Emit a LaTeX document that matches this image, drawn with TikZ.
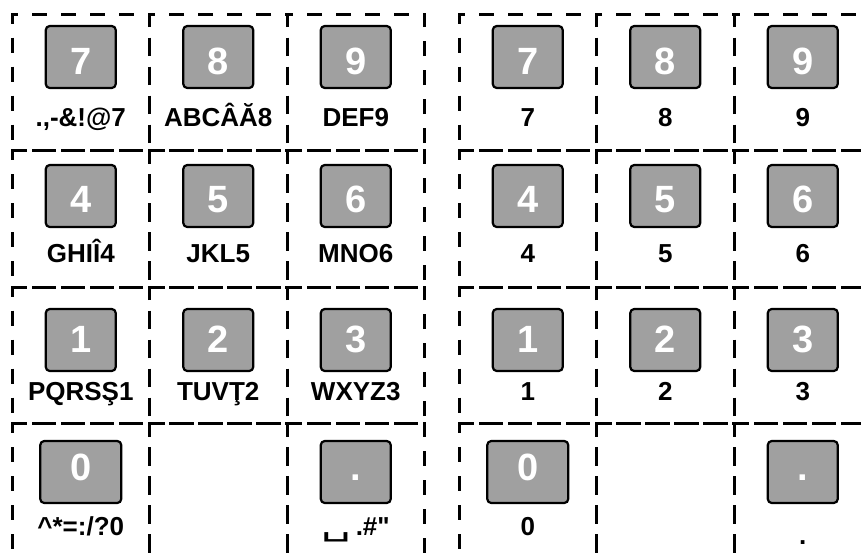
\documentclass[tikz,border=0pt]{standalone}
\usepackage{fontspec}
\setmainfont{Liberation Sans}
\newfontfamily\symfont{DejaVu Sans}
\usepackage{xcolor}
\usetikzlibrary{positioning}
\definecolor{keygray}{HTML}{A0A0A0}

\begin{document}
\begin{tikzpicture}[x=1pt, y=-1pt,
  cellbox/.style={draw, line width=3pt, dash pattern=on 15pt off 14pt,
    minimum width=137.5pt, minimum height=136.5pt, inner sep=0pt, outer sep=0pt},
  keybox/.style={draw, line width=2.2pt, fill=keygray, rounded corners=4pt,
    minimum height=62pt, inner sep=0pt, text depth=0pt, text=white,
    font=\fontsize{38}{38}\selectfont\bfseries},
  keylabel/.style={anchor=base, inner sep=0pt,
    font=\fontsize{26}{26}\selectfont\bfseries}]
\useasboundingbox (0,0) rectangle (861,557);
\clip (0,0) rectangle (861,557);
%
% dashed cells, two pads of 3x4
\foreach \g/\gx in {L/12, R/459}
  \foreach \col in {0,1,2}
    \foreach \row in {0,1,2,3}
      \node[cellbox, anchor=north west] (cell\g\col\row) at (\gx+\col*137.5, 14+\row*136.5) {};
%
% keys: name / key / pad x / column / row / key width / label
\foreach \nm/\kt/\gx/\col/\row/\w/\lab in {
    L7/7/12/0/0/70/{.,-\&!@7}, L8/8/12/1/0/70/{ABCÂĂ8}, L9/9/12/2/0/70/{DEF9},
    L4/4/12/0/1/70/{GHIÎ4}, L5/5/12/1/1/70/{JKL5}, L6/6/12/2/1/70/{MNO6},
    L1/1/12/0/2/70/{PQRSŞ1}, L2/2/12/1/2/70/{TUVŢ2}, L3/3/12/2/2/70/{WXYZ3},
    L0/0/12/0/3/81/{\textasciicircum*=:/?0},
    Ldot/./12/2/3/70/{\scalebox{1.8}[1.1]{\symfont\mdseries ␣}\,.\#\textquotedbl},
    R7/7/459/0/0/70/7, R8/8/459/1/0/70/8, R9/9/459/2/0/70/9,
    R4/4/459/0/1/70/4, R5/5/459/1/1/70/5, R6/6/459/2/1/70/6,
    R1/1/459/0/2/70/1, R2/2/459/1/2/70/2, R3/3/459/2/2/70/3,
    R0/0/459/0/3/81/0, Rdot/./459/2/3/70/{\raisebox{-9pt}{.}}}
{
  \pgfmathsetmacro\kx{\gx+68.75+\col*137.5}
  \pgfmathsetmacro\ky{{57,196,340,472}[\row]}
  \pgfmathsetmacro\kh{{34,33,25,16}[\row]}
  \pgfmathsetmacro\ly{{126,262,400,535}[\row]}
  \node[keybox, minimum width=\w pt, text height=\kh pt] (key\nm) at (\kx,\ky) {\kt};
  \node[keylabel] (lab\nm) at (\kx,\ly) {\lab};
}
\end{tikzpicture}
\end{document}
